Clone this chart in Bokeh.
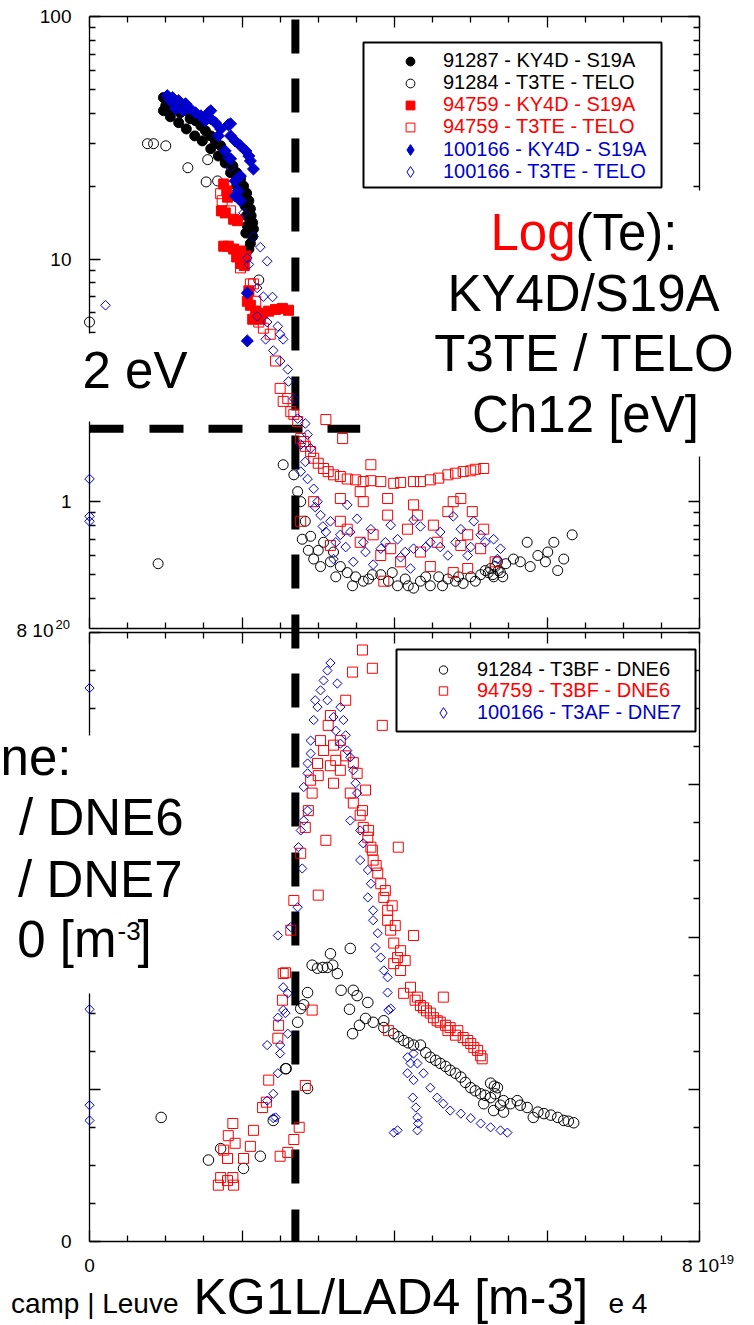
import math
from bokeh.plotting import figure
from bokeh.models import (Range1d, LinearAxis, LogAxis, LogScale, FixedTicker,
                          CustomJSTickFormatter, Label, Legend, LegendItem, BoxAnnotation)
from bokeh.embed import file_html
from bokeh.resources import INLINE

# ---------------- data (x: line density in 1e19 m^-3) ----------------
# top panel: Te [eV]
TOP_91287_KY4D = [(0.97,46.3),(1.00,42.9),(1.04,45.0),(1.09,41.7),(1.14,43.3),(1.19,40.1),(1.26,40.9),(1.32,37.9),(1.39,37.2),(1.46,35.5),(1.52,33.8),(1.59,32.2),(1.65,30.7),(1.72,29.3),(1.77,27.4),(1.82,25.9),(1.88,24.2),(1.93,22.7),(1.98,21.4),(2.02,20.0),(2.06,18.7),(2.09,17.4),(2.11,16.1),(2.12,15.1),(2.14,14.1),(2.15,13.3),(2.14,12.4),(2.11,11.6),(2.09,11.0),(0.97,40.9),(1.06,38.6),(1.17,36.5),(1.27,34.4),(1.38,32.2),(1.48,30.7),(1.59,28.5),(1.69,26.6),(1.78,24.9),(1.85,22.7),(1.93,20.0),(1.98,18.2),(2.04,16.6),(2.06,15.1),(2.07,13.7),(2.05,12.8)]

TOP_91284_TELO = [(0.76,29.9),(0.84,29.9),(1.00,29.3),(1.29,23.8),(1.55,25.7),(1.53,20.8),(1.68,21.0),(2.22,8.2),(0.00,5.5),(0.90,0.555),
 (2.54,1.42),(2.68,1.29),(2.73,1.10),(2.77,1.00),(2.83,0.83),(2.90,0.72),(2.94,0.58),(3.00,0.63),(3.07,0.68),(3.16,0.565),
 (3.20,0.62),(3.29,0.54),(3.38,0.51),(3.49,0.49),(3.59,0.47),(3.71,0.50),(3.82,0.50),(3.92,0.47),(4.04,0.45),(4.14,0.48),
 (4.25,0.44),(4.34,0.47),(4.47,0.45),(4.58,0.49),(4.70,0.48),(4.80,0.47),(4.90,0.46),(5.00,0.49),(5.13,0.50),(5.19,0.52),
 (5.26,0.53),(5.29,0.50),(5.32,0.54),(5.35,0.565),(5.39,0.51),(5.46,0.555),(5.56,0.58),(5.65,0.565),(5.74,0.68),(5.88,0.60),
 (6.01,0.62),(6.09,0.68),(6.14,0.52),(6.22,0.58),(6.33,0.73),
 (5.23,0.51),(5.30,0.49),(5.36,0.52),(5.42,0.49),(3.03,0.54),(3.23,0.49),(3.45,0.45),(3.66,0.48),(3.97,0.51),(4.18,0.45),
 (4.41,0.49),(4.63,0.45),(4.84,0.49),(5.06,0.47),(5.78,0.54),(5.98,0.565),(2.79,0.70),(2.87,0.63)]

TOP_94759_KY4D = [(1.76,20.4),(1.80,19.1),(1.81,18.0),(1.73,15.8),(1.78,15.5),(1.89,14.6),(1.94,14.4),(1.82,11.3),(1.89,11.0),(1.98,10.8),(1.93,10.2),(1.98,9.6),(2.03,9.4),(2.09,7.4),(2.07,6.7),(2.11,6.45),(2.18,6.1),(2.27,5.98),(2.35,6.1),(2.44,6.2),(2.53,6.26),(2.61,6.15),(2.24,5.65),(2.14,5.65),(1.76,11.3),(2.05,10.3)]

TOP_94759_TELO = [(1.72,18.6),(1.74,17.4),(1.85,15.8),(1.98,9.2),(2.11,7.9),(2.15,7.9),(2.28,5.19),(2.37,4.90),(2.44,3.8),(2.50,2.93),
 (2.60,2.66),(2.64,2.35),(2.73,2.14),(2.77,1.82),(2.83,1.69),(2.90,1.61),(2.94,1.51),(3.00,1.44),(3.07,1.37),(3.20,1.29),
 (3.38,1.24),(3.59,1.21),(3.82,1.21),(3.99,1.19),(4.25,1.21),(4.47,1.23),(4.70,1.29),(4.90,1.33),(5.06,1.36),(5.17,1.37),
 (3.10,2.18),(3.32,1.82),(3.69,1.42),(2.77,0.83),(2.94,1.00),(3.29,1.03),(3.55,1.10),(3.59,1.00),(3.91,1.03),(3.91,0.88),
 (4.25,0.97),(4.30,0.88),(4.51,0.80),(4.77,1.00),(4.87,1.03),(5.02,0.91),(4.70,0.91),(3.38,0.77),(3.55,0.68),(3.72,0.73),
 (3.82,0.60),(3.95,0.64),(4.17,0.77),(4.34,0.62),(4.56,0.68),(4.87,0.66),(4.96,0.53),(4.77,0.51),(5.13,0.64),(4.96,0.73),
 (3.16,0.66),(3.86,0.47),(5.17,0.77),(3.29,0.83),(4.08,0.565),(4.47,0.54),(5.32,0.565),
 (3.13,1.33),(3.29,1.27),(3.49,1.23),(3.69,1.22),(4.08,1.20),(4.34,1.21),(4.58,1.25),(4.80,1.31),(5.00,1.34),
 (2.18,6.7),(2.22,5.5),(2.54,2.59),(2.68,2.29),(2.81,1.77)]

TOP_100166_KY4D = [(1.02,47.2),(1.09,46.3),(1.17,45.0),(1.26,43.7),(1.32,41.7),(1.39,40.1),(1.46,39.0),(1.56,40.1),(1.59,37.9),(1.65,36.5),(1.72,34.4),(1.82,35.8),(1.85,32.2),(1.91,30.7),(1.98,29.3),(2.05,27.9),(2.11,25.4),(2.15,23.5),(1.98,22.0),(1.91,21.0),(1.95,19.1),(1.98,17.4),(1.91,18.2),(1.85,25.9),(1.78,27.9),(1.69,32.2),(1.52,37.2),(1.23,40.9),(1.13,41.7),(1.06,45.0),(2.09,26.6),(2.07,7.24),(2.07,4.6),(1.85,36.1),(1.59,40.9)]

TOP_100166_TELO = [(0.21,6.45),(1.81,26.2),(1.85,23.8),(1.94,21.6),(2.02,15.5),(2.15,12.4),(2.24,11.2),(2.07,10.1),(2.33,9.8),(2.09,9.5),
 (2.20,7.6),(2.28,7.0),(2.40,6.98),(2.20,5.81),(2.33,5.5),(2.47,5.28),(0.00,1.24),(0.00,0.87),(0.00,0.83),(2.31,4.67),
 (2.50,4.90),(2.54,4.67),(2.41,4.2),(2.50,3.8),(2.60,3.51),(2.61,3.13),(2.68,2.66),(2.73,2.20),(2.83,2.10),(2.86,1.89),
 (2.77,1.72),(2.90,1.66),(2.86,1.24),(2.94,1.13),(2.99,1.00),(3.03,0.88),(3.16,0.83),(3.38,0.97),(3.51,0.85),(3.69,0.77),
 (3.95,0.80),(4.25,0.84),(4.77,0.87),(5.04,0.83),(3.29,0.73),(3.59,0.68),(3.82,0.64),(4.04,0.70),(4.25,0.64),(4.47,0.68),
 (4.70,0.60),(3.20,0.58),(3.46,0.565),(3.72,0.55),(4.21,0.53),(5.30,0.70),(5.39,0.64),(5.35,0.58),(5.13,0.73),(4.87,0.77),
 (4.96,0.60),(3.10,0.75),(3.36,0.65),(4.08,0.59),(4.60,0.75),(4.34,0.79),
 (2.96,0.95),(3.06,0.79),(3.23,0.68),(3.42,0.75),(3.62,0.62),(3.88,0.68),(4.14,0.62),(4.41,0.65),(4.60,0.65),(4.80,0.68),
 (5.00,0.65),(5.19,0.68),(2.77,1.33),(2.83,1.46)]

# bottom panel: density [1e20 m^-3]
BOT_91284_DNE6 = [(0.94,1.63),(1.56,1.07),(1.72,1.22),(2.02,0.96),(2.24,1.12),(2.41,1.59),(2.58,2.27),(2.73,2.88),(2.77,3.06),(2.81,3.11),
 (2.86,3.27),(2.92,3.63),(2.99,3.59),(3.06,3.60),(3.12,3.60),(3.19,3.63),(3.25,3.52),(3.16,3.78),(3.42,3.85),(3.30,3.30),
 (3.46,3.30),(3.51,3.23),(3.65,3.14),(3.41,3.05),(3.54,2.84),(3.45,2.73),(3.62,2.93),(3.72,2.88),(3.86,2.90),(3.86,2.81),
 (3.99,2.73),(4.12,2.64),(4.25,2.58),(4.34,2.58),(4.47,2.42),(4.60,2.34),(4.73,2.25),(4.87,2.16),(5.00,2.02),(5.13,1.94),
 (5.26,1.89),(5.26,2.08),(5.31,2.04),(5.35,2.02),(5.30,1.72),(5.43,1.85),(5.61,1.85),(5.74,1.76),(5.88,1.70),(6.05,1.66),
 (6.22,1.59),(6.35,1.56),(5.82,1.63),(5.43,1.70),(5.17,1.81),(2.86,2.01),(2.57,2.27),
 (4.05,2.69),(4.18,2.61),(4.41,2.48),(4.54,2.38),(4.67,2.30),(4.80,2.21),(4.93,2.09),(5.06,1.98),(5.19,1.92),(5.52,1.81),
 (5.65,1.79),(5.96,1.68),(6.14,1.63),(6.28,1.58),(5.32,1.94),(5.39,1.79)]

BOT_94759_DNE6 = [(3.58,7.77),(3.45,7.48),(3.71,7.53),(3.84,6.78),(3.16,6.91),(3.03,6.58),(3.20,6.52),(3.29,6.58),(3.07,6.45),(2.99,6.28),
 (3.16,6.25),(3.29,6.19),(3.20,6.02),(3.46,6.29),(3.51,6.15),(3.42,5.89),(3.46,5.76),(3.55,5.60),(3.59,5.44),(3.65,5.31),
 (3.69,5.18),(3.72,5.01),(3.78,4.84),(3.82,4.70),(3.86,4.52),(3.91,4.35),(3.91,4.22),(3.95,4.09),(3.99,3.92),(4.04,3.73),
 (3.99,3.65),(4.05,5.18),(2.92,5.89),(2.87,5.66),(2.83,5.44),(2.77,5.10),(3.10,5.27),(3.00,4.55),(2.68,4.48),(2.64,4.09),
 (2.57,3.53),(2.53,3.17),(4.25,4.02),(4.21,3.34),(4.30,3.21),(4.38,3.07),(4.47,3.00),(4.56,2.90),(4.64,3.21),(4.73,2.81),
 (4.83,2.77),(4.90,2.68),(5.00,2.60),(5.09,2.51),(5.15,2.40),(4.12,3.26),(3.92,2.77),(2.54,3.52),(2.92,3.04),(2.35,2.12),
 (2.47,2.67),(2.83,2.05),(2.27,1.76),(2.15,1.46),(2.68,1.34),(2.60,1.17),(1.88,1.55),(1.82,1.39),(1.91,1.29),(2.11,1.25),
 (1.76,1.20),(1.81,1.09),(2.02,1.09),(1.72,0.84),(1.81,0.80),(1.88,0.84),(1.69,0.74),(1.89,0.74),(2.50,1.12),(2.75,1.50),
 (2.32,1.83),(2.48,2.84),(3.36,7.11),(3.62,5.93),(4.08,3.56),(4.34,3.10),(4.67,2.84),
 (3.58,5.66),(3.66,5.40),(3.71,5.14),(3.76,4.94),(3.88,4.61),(3.97,4.41),(4.01,4.15),(4.08,3.82),(4.14,3.69),(4.27,3.17),
 (4.42,3.03),(4.51,2.94),(4.60,2.88),(4.70,2.77),(4.80,2.71),(4.96,2.64),(5.04,2.55),(5.13,2.44),(3.13,6.78),(3.36,6.38),
 (3.23,6.32),(3.00,6.12),(2.90,6.06)]

BOT_100166_DNE7 = [(0.00,7.27),(0.00,3.05),(0.00,1.79),(0.00,1.59),(3.16,7.60),(3.12,7.50),(3.07,7.37),(3.03,7.24),(3.25,7.33),(2.99,7.02),
 (3.12,7.11),(3.29,7.02),(2.94,6.85),(3.20,6.89),(3.33,6.85),(2.90,6.58),(3.29,6.54),(3.38,6.45),(3.42,6.36),(2.90,6.41),
 (2.86,6.28),(2.86,6.15),(3.46,6.19),(2.81,5.97),(3.49,6.02),(3.51,5.89),(2.86,5.66),(3.42,5.53),(2.81,5.53),(2.77,5.40),
 (3.55,5.40),(2.74,5.18),(3.59,5.23),(3.55,5.01),(2.79,4.90),(3.65,4.88),(3.69,4.70),(3.65,4.52),(2.73,4.39),(3.72,4.35),
 (3.72,4.22),(3.78,4.05),(2.64,4.13),(3.75,3.86),(3.82,3.73),(3.86,3.56),(3.91,3.47),(2.54,3.34),(2.47,2.94),(3.91,3.27),
 (3.95,3.06),(3.92,3.04),(4.17,2.42),(4.21,2.34),(4.17,2.21),(4.25,2.12),(4.24,1.89),(4.28,1.76),(4.30,1.63),(4.31,1.55),
 (4.30,1.46),(4.04,1.46),(3.99,1.43),(4.38,2.21),(4.47,2.02),(4.56,1.89),(4.64,1.81),(4.73,1.72),(4.87,1.68),(5.00,1.62),
 (5.13,1.55),(5.26,1.50),(5.39,1.46),(5.48,1.43),(4.25,2.47),(4.30,2.34),(2.47,4.02),(2.60,3.26),(2.54,3.04),(2.33,2.58),
 (2.50,2.58),(2.50,2.47),(2.47,2.21),(2.41,1.94),(2.33,1.85),(2.41,1.62),(2.44,1.63),(2.57,3.00),(2.60,2.73),(2.96,7.11),
 (3.36,6.65),(3.23,6.71)]

# axes / reference values
X_TICKS = [0, 2, 4, 6, 8]
X_MINOR = [0.5, 1, 1.5, 2.5, 3, 3.5, 4.5, 5, 5.5, 6.5, 7, 7.5]
TE_RANGE = (0.3, 100)
TE_TICKS = [1, 10, 100]
TE_LABELS = ["1", "10", "100"]
TE_MINOR = [0.4, 0.5, 0.6, 0.7, 0.8, 0.9, 2, 3, 4, 5, 6, 7, 8, 9, 20, 30, 40, 50, 60, 70, 80, 90]
NE_RANGE = (0, 8)
NE_TICKS = [0, 2, 4, 6, 8]
NE_MINOR = X_MINOR
TE_THRESHOLD = 2.0
TE_LINE_END = 3.55
NE_SEPARATRIX = 2.70

# ---------------- layout (page pixels) ----------------
W, H = 754, 1325
FL, FR = 89, 699           # left / right axis of both panels
T_TOP, T_BOT = 16, 628     # Te panel
B_TOP, B_BOT = 632, 1241   # density panel
FONT = "Liberation Sans"
BLACK, RED, BLUE = "#000000", "#ff0000", "#0000cc"


def fx(px):
    return X_TICKS[0] + (px - FL) * (X_TICKS[-1] - X_TICKS[0]) / (FR - FL)


def fte(py):
    lo, hi = TE_RANGE
    return hi * (lo / hi) ** ((py - T_TOP) / (T_BOT - T_TOP))


def fy(py):
    return NE_RANGE[0] + (B_BOT - py) * (NE_RANGE[1] - NE_RANGE[0]) / (B_BOT - B_TOP)


def xs(pts):
    return [p[0] for p in pts]


def ys(pts):
    return [p[1] for p in pts]


p = figure(width=W, height=H, x_range=Range1d(fx(0), fx(W)), y_range=Range1d(fy(H), fy(0)),
           x_axis_location=None, y_axis_location=None, output_backend="svg", toolbar_location=None,
           min_border=0, min_border_left=0, min_border_right=0, min_border_top=0, min_border_bottom=0)
p.extra_y_ranges = {"te": Range1d(fte(H), fte(0))}
p.extra_y_scales = {"te": LogScale()}
p.outline_line_color = None
p.xgrid.visible = False
p.ygrid.visible = False
p.background_fill_color = "white"
p.border_fill_color = "white"


def add_axis(cls, side, ticks, minor, fixed, bounds, te=False):
    kw = {"y_range_name": "te"} if te else {}
    ax = cls(ticker=FixedTicker(ticks=ticks, minor_ticks=minor), fixed_location=fixed,
             bounds=bounds, **kw)
    ax.level = "underlay"
    ax.major_tick_in = 11
    ax.major_tick_out = 0
    ax.minor_tick_in = 6
    ax.minor_tick_out = 0
    ax.axis_line_color = BLACK
    ax.axis_line_width = 1.3
    ax.major_tick_line_color = BLACK
    ax.minor_tick_line_color = BLACK
    ax.major_tick_line_width = 1.3
    ax.minor_tick_line_width = 1.3
    ax.formatter = CustomJSTickFormatter(code="return ''")
    ax.major_label_text_font_size = "0px"
    ax.major_label_standoff = 0
    p.add_layout(ax, side)


# Te panel frame (log y)
add_axis(LogAxis, "left", TE_TICKS, TE_MINOR, X_TICKS[0], TE_RANGE, te=True)
add_axis(LogAxis, "right", TE_TICKS, TE_MINOR, X_TICKS[-1], TE_RANGE, te=True)
add_axis(LinearAxis, "above", X_TICKS, X_MINOR, TE_RANGE[1], (X_TICKS[0], X_TICKS[-1]), te=True)
add_axis(LinearAxis, "below", X_TICKS, X_MINOR, TE_RANGE[0], (X_TICKS[0], X_TICKS[-1]), te=True)
# density panel frame
add_axis(LinearAxis, "left", NE_TICKS, NE_MINOR, X_TICKS[0], NE_RANGE)
add_axis(LinearAxis, "right", NE_TICKS, NE_MINOR, X_TICKS[-1], NE_RANGE)
add_axis(LinearAxis, "above", X_TICKS, X_MINOR, NE_RANGE[1], (X_TICKS[0], X_TICKS[-1]))
add_axis(LinearAxis, "below", X_TICKS, X_MINOR, NE_RANGE[0], (X_TICKS[0], X_TICKS[-1]))

# reference lines
p.line([X_TICKS[0], TE_LINE_END], [TE_THRESHOLD, TE_THRESHOLD], y_range_name="te",
       line_color=BLACK, line_width=8, line_dash="34 26 34 25")
p.line([NE_SEPARATRIX, NE_SEPARATRIX], [fy(T_TOP), NE_RANGE[0]], line_color=BLACK,
       line_width=8, line_dash="34 26 34 25", line_dash_offset=57)

# Te series
r1 = p.scatter(xs(TOP_91287_KY4D), ys(TOP_91287_KY4D), y_range_name="te", marker="circle", size=10,
               fill_color=BLACK, line_color=BLACK)
r2 = p.scatter(xs(TOP_91284_TELO), ys(TOP_91284_TELO), y_range_name="te", marker="circle", size=10,
               fill_color=None, line_color=BLACK, line_width=1)
r3 = p.scatter(xs(TOP_94759_KY4D), ys(TOP_94759_KY4D), y_range_name="te", marker="square", size=10,
               fill_color=RED, line_color=RED)
r4 = p.scatter(xs(TOP_94759_TELO), ys(TOP_94759_TELO), y_range_name="te", marker="square", size=10,
               fill_color=None, line_color=RED, line_width=1)
r5 = p.scatter(xs(TOP_100166_KY4D), ys(TOP_100166_KY4D), y_range_name="te", marker="square",
               angle=math.pi / 4, size=8.5, fill_color=BLUE, line_color=BLUE)
r6 = p.scatter(xs(TOP_100166_TELO), ys(TOP_100166_TELO), y_range_name="te", marker="square",
               angle=math.pi / 4, size=6.8, fill_color=None, line_color=BLUE, line_width=1)
# density series
q1 = p.scatter(xs(BOT_91284_DNE6), ys(BOT_91284_DNE6), marker="circle", size=10.5,
               fill_color=None, line_color=BLACK, line_width=1)
q2 = p.scatter(xs(BOT_94759_DNE6), ys(BOT_94759_DNE6), marker="square", size=10,
               fill_color=None, line_color=RED, line_width=1)
q3 = p.scatter(xs(BOT_100166_DNE7), ys(BOT_100166_DNE7), marker="square", angle=math.pi / 4,
               size=6.5, fill_color=None, line_color=BLUE, line_width=1)
# diamond legend keys (legend glyphs are never rotated): same data, zero size on the plot
k5 = p.scatter(xs(TOP_100166_KY4D), ys(TOP_100166_KY4D), y_range_name="te", marker="diamond", size=0,
               fill_color=BLUE, line_color=BLUE)
k6 = p.scatter(xs(TOP_100166_TELO), ys(TOP_100166_TELO), y_range_name="te", marker="diamond", size=0,
               fill_color=None, line_color=BLUE, line_width=1)
k9 = p.scatter(xs(BOT_100166_DNE7), ys(BOT_100166_DNE7), marker="diamond", size=0,
               fill_color=None, line_color=BLUE, line_width=1)


def box(left, right, top, bottom, line=False):
    p.add_layout(BoxAnnotation(left=left, right=right, top=top, bottom=bottom,
                               fill_color="white", fill_alpha=1.0,
                               line_color=BLACK if line else None,
                               line_alpha=1.0 if line else 0.0, line_width=2))


def text(x, y, s, size, color=BLACK, align="left", te=False):
    kw = {"y_range_name": "te"} if te else {}
    p.add_layout(Label(x=x, y=y, text=s, text_font=FONT, text_font_size=f"{size}px",
                       text_color=color, text_align=align, text_baseline="middle", **kw))


def btext(px, base_py, s, size, color=BLACK, align="left"):
    # place a text by its baseline (page pixels); labels are centred at mid cap height
    text(fx(px), fy(base_py - 0.355 * size), s, size, color, align)


def legend_row(r, label, color, gx, gw, cy, row_h):
    lg = Legend(items=[LegendItem(label=label, renderers=[r])],
                location=(gx, H - (cy + row_h / 2)),
                orientation="vertical", padding=0, margin=0, spacing=0,
                border_line_alpha=0, background_fill_alpha=0, inactive_fill_alpha=0,
                glyph_width=gw, glyph_height=row_h, label_height=row_h, label_standoff=0,
                label_text_font=FONT, label_text_font_size="20px", label_text_color=color)
    p.add_layout(lg, "center")


# white backgrounds of the slide texts
box(fx(432), fx(W), fy(190), fy(456))
box(fx(70), fx(195), fy(333), fy(421))
box(fx(0), fx(190), fy(735), fy(993))

# legends
box(fx(363), fx(661), fy(42), fy(187), line=True)
top_rows = [("91287 - KY4D - S19A", r1, BLACK, 22), ("91284 - T3TE - TELO", r2, BLACK, 22),
            ("94759 - KY4D - S19A", r3, RED, 22), ("94759 - T3TE - TELO", r4, RED, 22),
            ("100166 - KY4D - S19A", k5, BLUE, 27), ("100166 - T3TE - TELO", k6, BLUE, 27)]
for i, (lab, r, c, rh) in enumerate(top_rows):
    legend_row(r, lab, c, 377, 66, 61 + 22 * i, rh)

box(fx(396), fx(695), fy(649), fy(731), line=True)
bot_rows = [("91284 - T3BF - DNE6", q1, BLACK, 21), ("94759 - T3BF - DNE6", q2, RED, 21),
            ("100166 - T3AF - DNE7", k9, BLUE, 27)]
for i, (lab, r, c, rh) in enumerate(bot_rows):
    legend_row(r, lab, c, 409, 68, 670 + 21 * i, rh)

# tick labels
for t, s in zip(TE_TICKS, TE_LABELS):
    text(fx(71), t, s, 19, align="right", te=True)
text(fx(71), NE_RANGE[0], "0", 19, align="right")
btext(53, 637, "8 10", 19, align="right")
btext(55, 629, "20", 13)
text(X_TICKS[0], fy(1265), "0", 19, align="center")
btext(700, 1272, "8 10", 19, align="center")
btext(719, 1264, "19", 13)

# slide texts
btext(490, 250, "Log", 51, RED)
btext(575, 250, "(Te):", 51)
btext(583, 311, "KY4D/S19A", 51, align="center")
btext(584, 371, "T3TE / TELO", 51, align="center")
btext(585, 432, "Ch12 [eV]", 51, align="center")
btext(82, 388, "2 eV", 51)
btext(71, 775, "ne:", 51, align="right")
btext(183, 835, "/ DNE6", 51, align="right")
btext(182, 897, "/ DNE7", 51, align="right")
btext(116, 957, "0 [m", 51, align="right")
btext(117, 940, "-3", 26)
btext(137, 957, "]", 51)
btext(193, 1314, "KG1L/LAD4 [m-3]", 50)
btext(178, 1313, "camp | Leuve", 28, align="right")
btext(608, 1313, "e 4", 28)

open("out.html", "w").write(file_html(p, INLINE))
